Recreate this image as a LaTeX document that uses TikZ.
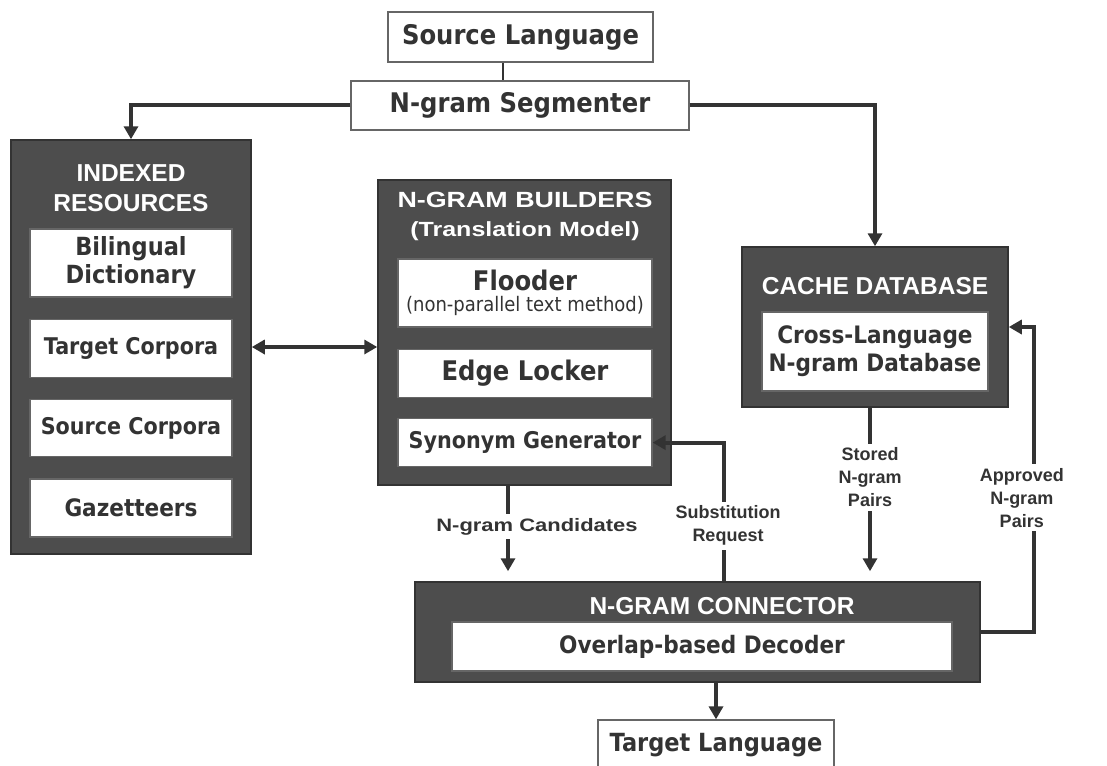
\documentclass[tikz,border=0pt]{standalone}
\usepackage{fontspec}
\setmainfont{Liberation Sans}
\newfontfamily\boxfont[FakeStretch=0.9]{DejaVu Sans}
\newfontfamily\widefont[FakeStretch=1.22]{Liberation Sans}
\usetikzlibrary{positioning,arrows.meta}
\definecolor{boxgray}{HTML}{4D4D4D}
\definecolor{linegray}{HTML}{333333}
\newcommand\bsize[1]{\fontsize{#1}{#1}\selectfont}

\begin{document}
\begin{tikzpicture}[x=1pt, y=-1pt, inner sep=0pt,
		panel/.style = {draw=linegray, line width=1.5pt, fill=boxgray},
		title/.style = {text=white, font=\fontsize{24.5}{30}\selectfont\bfseries, align=center},
		inbox/.style = {draw=linegray!75, line width=1.3pt, fill=white, text=linegray, align=center, minimum width=202pt, font=\boxfont\fontsize{24}{28}\selectfont\bfseries},
		arr/.style = {draw=linegray, line width=4pt, -{Triangle[width=14pt,length=13pt]}},
		lbl/.style = {fill=white, text=linegray, align=center, inner sep=4pt, font=\fontsize{18}{23}\selectfont\bfseries}]
	\useasboundingbox (0,0) rectangle (1107,765);
	
	\node[inbox, minimum width=265pt, minimum height=50pt, font=\boxfont\bsize{27}\bfseries] (src) at (520.5,37) {Source Language};
	\node[inbox, minimum width=338pt, minimum height=49pt, font=\boxfont\bsize{27}\bfseries] (seg) at (520,105.5) {N-gram Segmenter};
	
	\node[panel, minimum width=240pt, minimum height=414pt] (res) at (131,347) {};
	\node[title] (restitle) at (131,188.5) {INDEXED\\RESOURCES};
	\node[inbox, minimum height=68pt, font=\boxfont\fontsize{25}{28}\selectfont\bfseries] (bil) at (131,263) {Bilingual\\Dictionary};
	\node[inbox, minimum height=58pt, font=\boxfont\bsize{23}\bfseries] (tcorp) [below=21pt of bil] {Target Corpora};
	\node[inbox, minimum height=57pt, font=\boxfont\bsize{23}\bfseries] (scorp) [below=21pt of tcorp] {Source Corpora};
	\node[inbox, minimum height=58pt] (gaz) [below=21pt of scorp] {Gazetteers};
	
	\node[panel, minimum width=293pt, minimum height=305pt] (bld) at (524.5,332.5) {};
	\node[title, font=\widefont\fontsize{22}{29}\selectfont\bfseries] (bldtitle) at (525,216) {N-GRAM BUILDERS\\{\fontsize{20.5}{24}\selectfont(Translation Model)}};
	\node[inbox, minimum width=254pt, minimum height=68pt, font=\boxfont\fontsize{27}{28}\selectfont\bfseries] (flood) at (525,293) {Flooder\\[-7pt]{\fontsize{20}{22}\selectfont\mdseries (non-parallel text method)}};
	\node[inbox, minimum width=254pt, minimum height=48pt, font=\boxfont\bsize{27}\bfseries] (edge) [below=21pt of flood] {Edge Locker};
	\node[inbox, minimum width=254pt, minimum height=48pt, font=\boxfont\bsize{23}\bfseries] (syn) [below=20pt of edge] {Synonym Generator};
	
	\node[panel, minimum width=266pt, minimum height=160pt] (cache) at (875,327) {};
	\node[title] (cachetitle) at (875,286) {CACHE DATABASE};
	\node[inbox, minimum width=226pt, minimum height=79pt] (xdb) at (875,351.5) {Cross-Language\\N-gram Database};
	
	\node[panel, minimum width=565pt, minimum height=100pt] (conn) at (697.5,632) {};
	\node[title] (conntitle) at (722,606) {N-GRAM CONNECTOR};
	\node[inbox, minimum width=500pt, minimum height=49pt] (dec) at (702,646.5) {Overlap-based Decoder};
	\node[inbox, minimum width=236pt, minimum height=50pt, font=\boxfont\bsize{25}\bfseries] (tgt) at (716,745) {Target Language};
	
	\draw[linegray, line width=2pt] ([xshift=-17.5pt]src.south) -- ([xshift=-17.5pt]src.south |- seg.north);
	\draw[arr] (seg.west) -| (res.north);
	\draw[arr] (seg.east) -| (cache.north);
	\draw[arr, {Triangle[width=14pt,length=13pt]}-{Triangle[width=14pt,length=13pt]}] (res.east) -- (res.east -| bld.west);
	\draw[arr, shorten >=10pt] ([xshift=-16.5pt]bld.south) -- ([xshift=-16.5pt]bld.south |- conn.north) node[lbl, pos=0.43, xshift=29pt, font=\widefont\fontsize{18}{23}\selectfont\bfseries] {N-gram Candidates};
	\draw[arr, shorten >=10pt] ([xshift=-5pt]cache.south) -- ([xshift=-5pt]cache.south |- conn.north) node[lbl, pos=0.4] {Stored\\N-gram\\Pairs};
	\draw[arr] ([xshift=26.5pt]conn.north) |- node[lbl, pos=0.2, xshift=4pt] {Substitution\\Request} (syn.east);
	\draw[arr] (conn.east) -| node[lbl, pos=0.72, xshift=-12pt] {Approved\\N-gram\\Pairs} ([xshift=25pt]cache.east) -- (cache.east);
	\draw[arr] (conn.south -| tgt.north) -- (tgt.north);
\end{tikzpicture}
\end{document}
